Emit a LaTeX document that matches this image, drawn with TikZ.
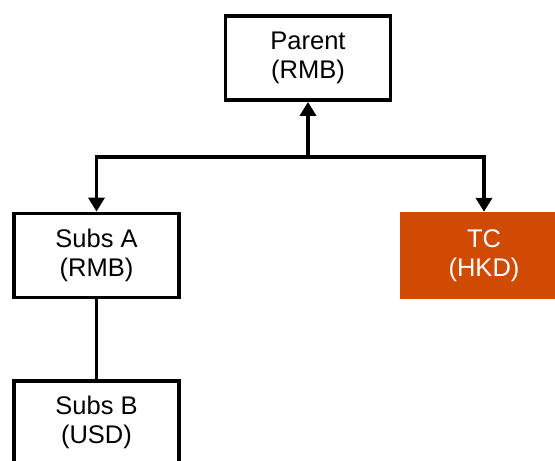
\documentclass[tikz,border=0pt]{standalone}
\usepackage{fontspec}
\setmainfont{Liberation Sans}
\usetikzlibrary{arrows.meta}
\definecolor{tcorange}{HTML}{D04A02}
\tikzset{
  entity/.style={draw=black, line width=3.8pt, fill=white, minimum width=165pt,
    minimum height=84pt, align=center, inner sep=0pt,
    font=\fontsize{25.5}{29}\selectfont},
  hilite/.style={fill=tcorange, text=white, minimum width=168pt,
    minimum height=87pt, align=center, inner sep=0pt,
    font=\fontsize{25.5}{29}\selectfont},
  conn/.style={line width=3.8pt, line join=miter},
  arr/.style={conn, -{Triangle[width=16pt,length=14pt]}}
}
\begin{document}
\begin{tikzpicture}[x=1pt,y=1pt]
  \useasboundingbox (0,0) rectangle (555,-461);
  \node[entity] (parent) at (308,-58) {Parent\\(RMB)};
  \node[entity] (subsA) at (96.5,-255.5) {Subs A\\(RMB)};
  \node[hilite] (tc) at (484,-255.5) {TC\\(HKD)};
  \node[entity] (subsB) at (96.5,-422.6) {Subs B\\(USD)};
  \coordinate (junction) at (308,-157);
  \draw[arr] (junction) -- (parent.south);
  \draw[arr] (junction) -| (subsA.north);
  \draw[arr] (junction) -| (tc.north);
  \draw[conn] (subsA.south) -- (subsB.north);
\end{tikzpicture}
\end{document}
